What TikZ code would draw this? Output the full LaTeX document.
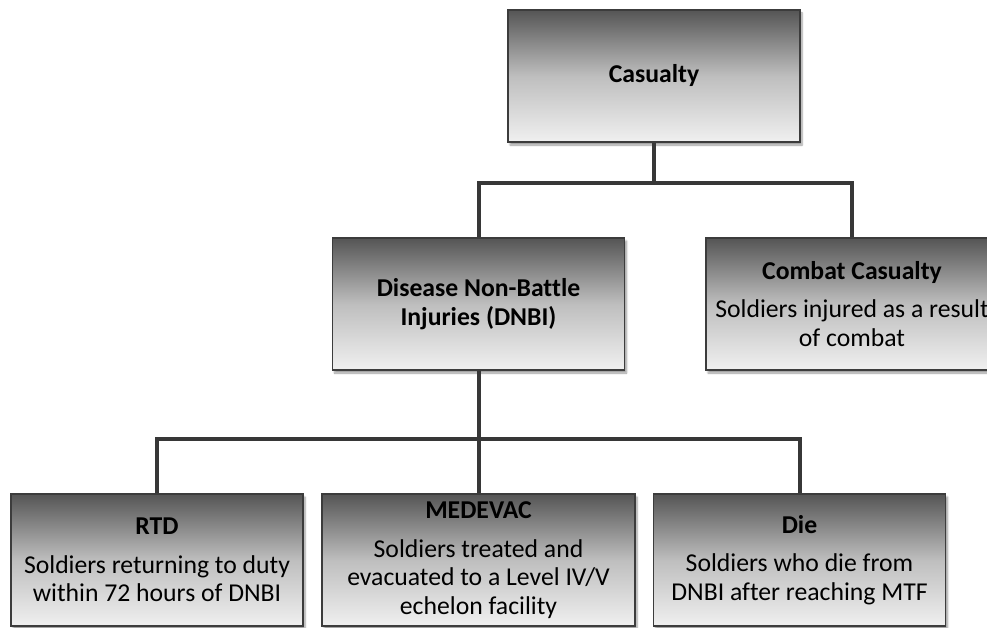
\documentclass[tikz,border=0pt]{standalone}
\usepackage{fontspec}
\setmainfont[Ligatures=NoCommon]{Carlito}
\usetikzlibrary{shadows.blur}

\definecolor{boxtop}{RGB}{85,85,85}
\definecolor{boxmid}{RGB}{190,190,190}
\definecolor{boxbot}{RGB}{240,240,240}
\definecolor{boxline}{RGB}{60,60,60}
\definecolor{linkline}{RGB}{55,55,55}

\begin{document}
\begin{tikzpicture}[x=1pt, y=-1pt,
  box/.style={draw=boxline, line width=1.2pt, top color=boxtop, bottom color=boxbot, middle color=boxmid, minimum width=292pt, minimum height=132pt, inner sep=2pt, align=center, font=\fontsize{25.7}{28.5}\selectfont, blur shadow={shadow xshift=2pt, shadow yshift=-3pt, shadow blur steps=6, shadow opacity=40}},
  link/.style={draw=linkline, line width=4pt}]
\path[use as bounding box, clip] (0,0) rectangle (987,628);
\node[box] (cas) at (654,76) {\textbf{Casualty}};
\node[box] (dnbi) at (478.5,304) {\textbf{Disease Non-Battle}\\\textbf{Injuries (DNBI)}};
\node[box] (combat) at (852,304) {\textbf{Combat Casualty}\\[10pt]Soldiers injured as a result\\of combat};
\node[box] (rtd) at (157,560) {\textbf{RTD}\\[10pt]Soldiers returning to duty\\within 72 hours of DNBI};
\node[box, minimum width=313pt] (medevac) at (478.5,560) {\textbf{MEDEVAC}\\[10pt]Soldiers treated and\\evacuated to a Level IV/V\\echelon facility};
\node[box] (die) at (799.5,560) {\textbf{Die}\\[10pt]Soldiers who die from\\DNBI after reaching MTF};
\draw[link] (cas.south) -- ++(0,40) coordinate (split1);
\draw[link] (dnbi.north) |- (split1) -| (combat.north);
\draw[link] (dnbi.south) -- ++(0,68) coordinate (split2);
\draw[link] (rtd.north) |- (split2) -| (die.north);
\draw[link] (split2) -- (medevac.north);
\end{tikzpicture}
\end{document}
